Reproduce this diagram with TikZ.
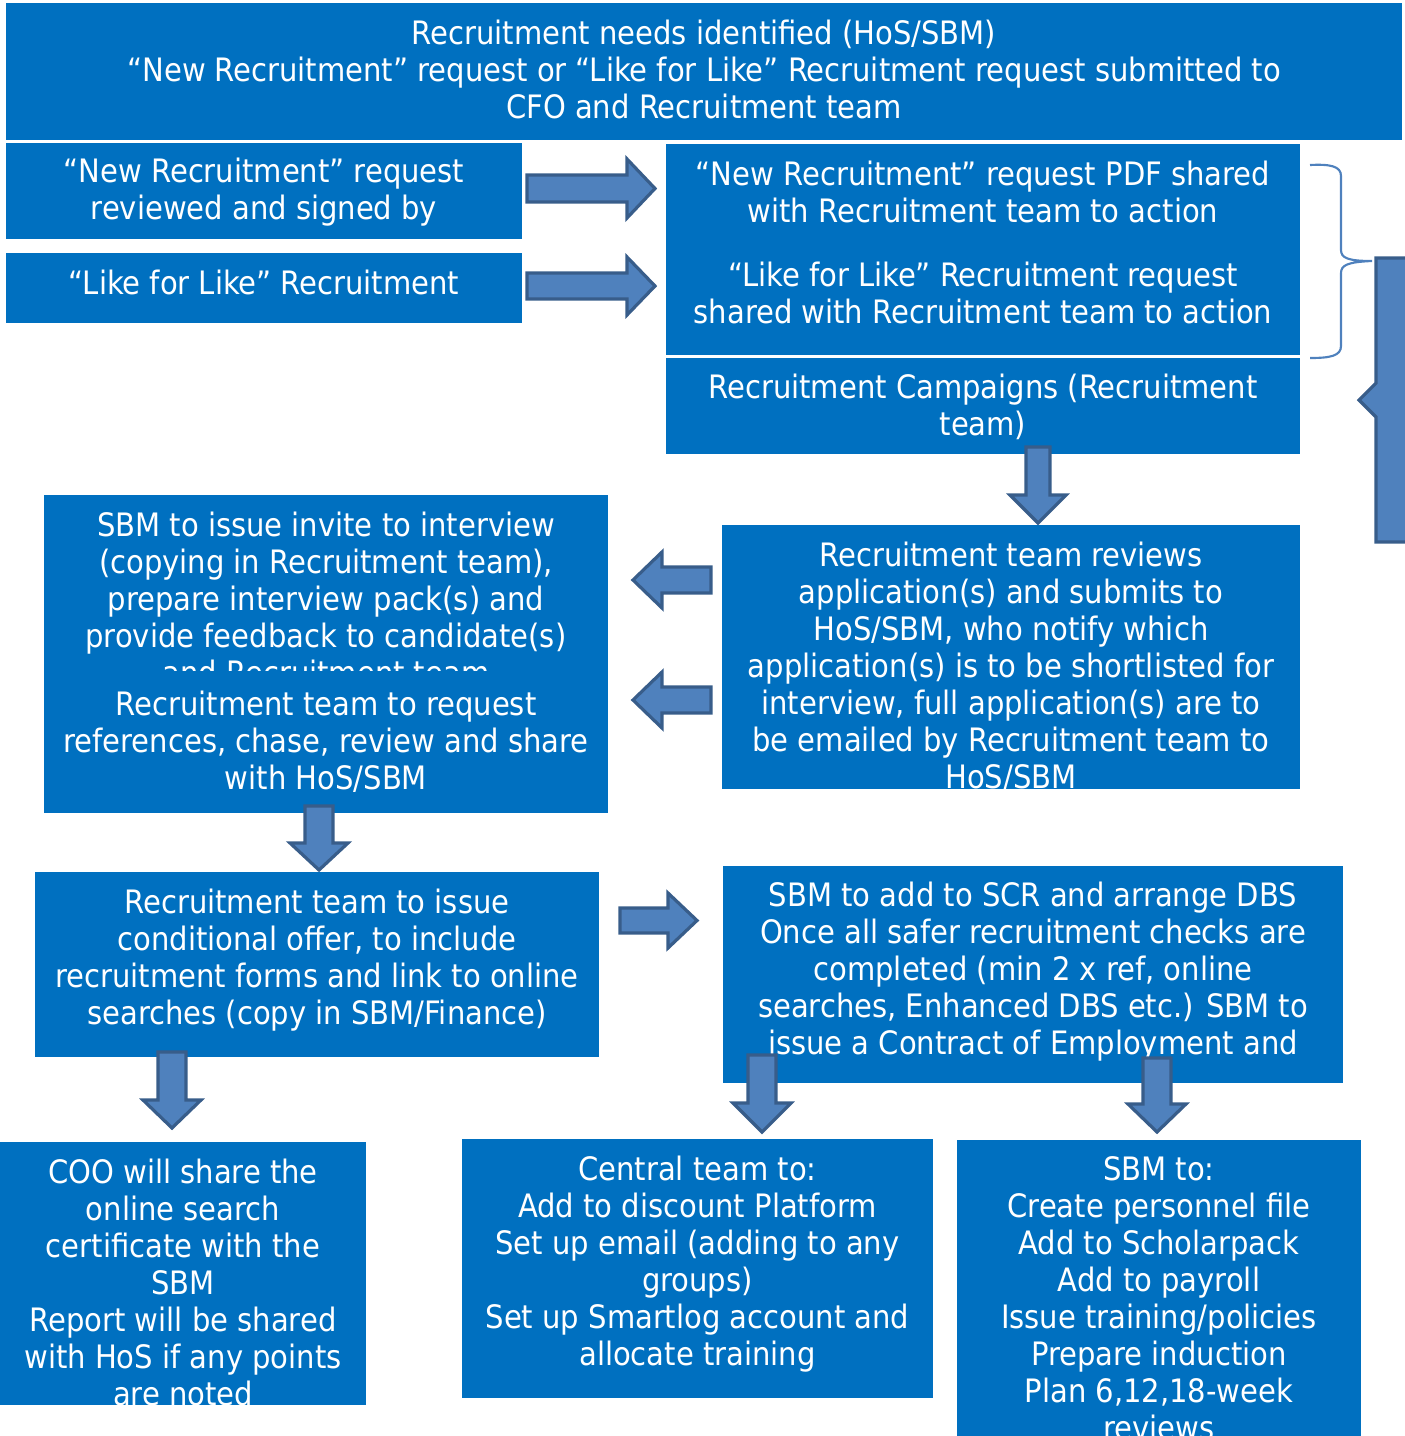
\documentclass[tikz,border=0pt]{standalone}
\usepackage{fontspec}
\setmainfont{DejaVu Sans Condensed}
\usetikzlibrary{fit}

\definecolor{boxblue}{RGB}{0,112,192}
\definecolor{arrowfill}{RGB}{79,129,189}
\definecolor{arrowline}{RGB}{56,93,138}

\tikzset{
  box/.style={fill=boxblue, draw=none, inner sep=0pt},
  boxtext/.style={text=white, align=center, inner sep=0pt, anchor=north,
    font=\fontsize{24.2pt}{27.75pt}\selectfont},
  blockarrow/.style={fill=arrowfill, draw=arrowline, line width=2.4pt, line join=miter},
}

\begin{document}
\begin{tikzpicture}[x=0.75pt,y=0.75pt,yscale=-1,xscale=1]
    \useasboundingbox (0,0) rectangle (1405,1436);

    %Shape: Rectangles
    \node[box, fit={(6,3) (1402,140)}] (need) {};
    \node[box, fit={(6,143) (522,239)}] (newreq) {};
    \node[box, fit={(6,253) (522,323)}] (likereq) {};
    \node[box, fit={(666,144) (1300,355)}] (shared) {};
    \node[box, fit={(666,358) (1300,454)}] (campaign) {};
    \node[box, fit={(722,525) (1300,789)}] (reviews) {};
    \node[box, fit={(44,495) (608,670)}] (invite) {};
    \node[box, fit={(44,670) (608,813)}] (refs) {};
    \node[box, fit={(35,872) (599,1057)}] (offer) {};
    \node[box, fit={(723,866) (1343,1083)}] (scr) {};
    \node[box, fit={(0,1142) (366,1405)}] (coo) {};
    \node[box, fit={(462,1139) (933,1398)}] (central) {};
    \node[box, fit={(957,1140) (1361,1436)}] (sbmto) {};

    % Text Nodes
    \node[boxtext] (needtxt) at (need.center |- 0,20) {Recruitment needs identified (HoS/SBM)\\
      “New Recruitment” request or “Like for Like” Recruitment request submitted to\\
      CFO and Recruitment team};
    \node[boxtext] (newreqtxt) at (newreq.center |- 0,158) {“New Recruitment” request\\ reviewed and signed by};
    \node[boxtext] (likereqtxt) at (likereq.center |- 0,270) {“Like for Like” Recruitment};
    \node[boxtext] (sharedtxt) at (shared.center |- 0,161) {“New Recruitment” request PDF shared\\
      with Recruitment team to action\\[20pt]
      “Like for Like” Recruitment request\\
      shared with Recruitment team to action};
    \node[boxtext] (campaigntxt) at (campaign.center |- 0,374) {Recruitment Campaigns (Recruitment\\ team)};
    \begin{scope}
      \clip (reviews.north west) rectangle ([yshift=7.5pt]reviews.south east);
      \node[boxtext] (reviewstxt) at (reviews.center |- 0,542) {Recruitment team reviews\\
        application(s) and submits to\\
        HoS/SBM, who notify which\\
        application(s) is to be shortlisted for\\
        interview, full application(s) are to\\
        be emailed by Recruitment team to\\
        HoS/SBM};
    \end{scope}
    \begin{scope}
      \clip (invite.south west) rectangle (invite.north east);
      \node[boxtext] (invitetxt) at (invite.center |- 0,512) {SBM to issue invite to interview\\
        (copying in Recruitment team),\\
        prepare interview pack(s) and\\
        provide feedback to candidate(s)\\
        and Recruitment team};
    \end{scope}
    \node[boxtext] (refstxt) at (refs.center |- 0,691) {Recruitment team to request\\
      references, chase, review and share\\
      with HoS/SBM};
    \node[boxtext] (offertxt) at (offer.center |- 0,889) {Recruitment team to issue\\
      conditional offer, to include\\
      recruitment forms and link to online\\
      searches (copy in SBM/Finance)};
    \node[boxtext] (scrtxt) at (scr.center |- 0,882) {SBM to add to SCR and arrange DBS\\
      Once all safer recruitment checks are\\
      completed (min 2 x ref, online\\
      searches, Enhanced DBS etc.) SBM to\\
      issue a Contract of Employment and};
    \begin{scope}
      \clip (coo.north west) rectangle ([yshift=6pt]coo.south east);
      \node[boxtext] (cootxt) at (coo.center |- 0,1159) {COO will share the\\
        online search\\
        certificate with the\\
        SBM\\
        Report will be shared\\
        with HoS if any points\\
        are noted};
    \end{scope}
    \node[boxtext] (centraltxt) at (central.center |- 0,1156) {Central team to:\\
      Add to discount Platform\\
      Set up email (adding to any\\
      groups)\\
      Set up Smartlog account and\\
      allocate training};
    \begin{scope}
      \clip (sbmto.north west) rectangle ([yshift=5.25pt]sbmto.south east);
      \node[boxtext] (sbmtotxt) at (sbmto.center |- 0,1156) {SBM to:\\
        Create personnel file\\
        Add to Scholarpack\\
        Add to payroll\\
        Issue training/policies\\
        Prepare induction\\
        Plan 6,12,18-week\\
        reviews};
    \end{scope}

    %Shape: Right Arrows
    \draw[blockarrow] (527,175) -- (627,175) -- (627,159) -- (655,188.5) -- (627,218) -- (627,202) -- (527,202) -- cycle;
    \draw[blockarrow] (527,273) -- (627,273) -- (627,257) -- (655,286) -- (627,315) -- (627,299) -- (527,299) -- cycle;
    \draw[blockarrow] (620,908) -- (668,908) -- (668,893) -- (697,920.5) -- (668,948) -- (668,933) -- (620,933) -- cycle;
    %Shape: Left Arrows
    \draw[blockarrow] (711,567) -- (662,567) -- (662,552) -- (633,580) -- (662,608) -- (662,593) -- (711,593) -- cycle;
    \draw[blockarrow] (711,687) -- (662,687) -- (662,672) -- (633,700) -- (662,728) -- (662,713) -- (711,713) -- cycle;
    %Shape: Down Arrows
    \draw[blockarrow] (1026,447) -- (1026,495) -- (1010,495) -- (1038,523) -- (1066,495) -- (1050,495) -- (1050,447) -- cycle;
    \draw[blockarrow] (305,806) -- (305,843) -- (290,843) -- (319,870) -- (348,843) -- (333,843) -- (333,806) -- cycle;
    \draw[blockarrow] (158,1052) -- (158,1100) -- (143,1100) -- (172,1128) -- (201,1100) -- (186,1100) -- (186,1052) -- cycle;
    \draw[blockarrow] (748,1055) -- (748,1103) -- (733,1103) -- (762,1132) -- (791,1103) -- (776,1103) -- (776,1055) -- cycle;
    \draw[blockarrow] (1143,1058) -- (1143,1104) -- (1128,1104) -- (1157,1132) -- (1186,1104) -- (1171,1104) -- (1171,1058) -- cycle;

    %Shape: Left Arrow Callout
    \draw[blockarrow] (1376,258) -- (1420,258) -- (1420,542) -- (1376,542) -- (1376,417) -- (1359,400) -- (1376,383) -- cycle;
    \draw[arrowfill, line width=1.5pt] (1366,400) -- (1382,400);

    %Shape: Right Brace
    \draw[arrowfill, line width=1.6pt] (1310,165) .. controls (1330,164) and (1341,166) .. (1341,176)
      -- (1341,250) .. controls (1341,258) and (1348,261) .. (1372,261)
      .. controls (1348,262) and (1341,265) .. (1341,273)
      -- (1341,346) .. controls (1341,356) and (1330,358) .. (1310,358);

\end{tikzpicture}
\end{document}
